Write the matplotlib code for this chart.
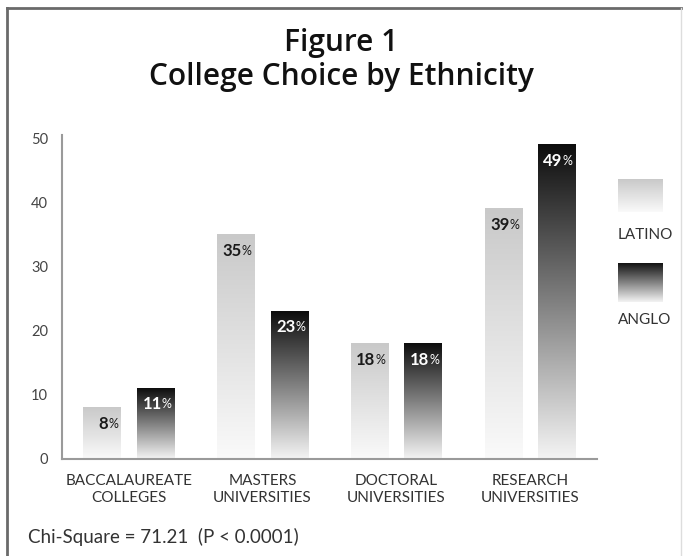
import numpy as np
import matplotlib
matplotlib.use("Agg")
import matplotlib.pyplot as plt
from matplotlib.colors import LinearSegmentedColormap
from matplotlib.lines import Line2D

plt.rcParams['font.family'] = ['Lato', 'DejaVu Sans']

# Data
categories = ["BACCALAUREATE\nCOLLEGES", "MASTERS\nUNIVERSITIES",
              "DOCTORAL\nUNIVERSITIES", "RESEARCH\nUNIVERSITIES"]
latino = [8, 35, 18, 39]
anglo = [11, 23, 18, 49]
series_names = ["LATINO", "ANGLO"]
y_ticks = [0, 10, 20, 30, 40, 50]
title_lines = ["Figure 1", "College Choice by Ethnicity"]
footnote = "Chi-Square = 71.21  (P < 0.0001)"

# Vertical gradients (bottom -> top)
latino_cmap = LinearSegmentedColormap.from_list("lat", ["#fafafa", "#c9c9c9"])
anglo_cmap = LinearSegmentedColormap.from_list("ang", ["#f4f4f4", "#808080", "#0d0d0d"])
grad = np.linspace(0, 1, 256).reshape(-1, 1)

fig = plt.figure(figsize=(6.83, 5.56), dpi=100)
fig.patch.set_facecolor("white")
ax = fig.add_axes([0.0908, 0.1745, 0.7832, 0.5825])

width = 0.28
offset = 0.2
x = np.arange(len(categories))


def gradient_bar(xc, h, cmap):
    ax.imshow(grad, extent=[xc - width / 2, xc + width / 2, 0, h], origin="lower",
              cmap=cmap, aspect="auto", interpolation="bicubic", zorder=2)


def bar_label(xc, h, color):
    ax.annotate(f"{h}", xy=(xc, h), xytext=(6, -16), textcoords="offset pixels",
                ha="right", va="center", fontsize=12, fontweight="bold",
                color=color, zorder=3)
    ax.annotate("%", xy=(xc, h), xytext=(6, -16), textcoords="offset pixels",
                ha="left", va="center", fontsize=9, color=color, zorder=3)


for i in range(len(categories)):
    gradient_bar(x[i] - offset, latino[i], latino_cmap)
    gradient_bar(x[i] + offset, anglo[i], anglo_cmap)
    bar_label(x[i] - offset, latino[i], "#1a1a1a")
    bar_label(x[i] + offset, anglo[i], "white")

ax.set_xlim(-0.5, 3.5)
ax.set_ylim(0, 50.5)
ax.set_xticks(x)
ax.set_xticklabels(categories, fontsize=11, color="#333333", linespacing=1.25)
ax.set_yticks(y_ticks)
ax.set_yticklabels([str(t) for t in y_ticks], fontsize=10.5, color="#444444")
ax.tick_params(axis="x", length=0, pad=11)
ax.tick_params(axis="y", length=0, pad=10)
for s in ["top", "right"]:
    ax.spines[s].set_visible(False)
for s in ["left", "bottom"]:
    ax.spines[s].set_color("#9a9a9a")
    ax.spines[s].set_linewidth(1.5)

# Title
title_font = dict(family=["Open Sans", "DejaVu Sans"], fontsize=21.5, fontweight="semibold",
                  color="#111111", ha="center", va="center")
fig.text(0.5, 1 - 43 / 556, title_lines[0], **title_font)
fig.text(0.5, 1 - 77 / 556, title_lines[1], **title_font)

# Legend swatches with gradients
for (y0, y1), cmap, name, ty in [((179, 212), latino_cmap, series_names[0], 235),
                                 ((263, 302), anglo_cmap, series_names[1], 320)]:
    lax = fig.add_axes([618 / 683, 1 - y1 / 556, 45 / 683, (y1 - y0) / 556])
    lax.imshow(grad, origin="lower", cmap=cmap, aspect="auto", interpolation="bicubic")
    lax.axis("off")
    fig.text(645 / 683, 1 - ty / 556, name, ha="center", va="center",
             fontsize=11, color="#333333")

# Footnote
fig.text(28 / 683, 1 - 537 / 556, footnote, ha="left", va="center",
         fontsize=13.5, color="#333333")

# Frame lines
fig.add_artist(Line2D([7 / 683, 7 / 683], [0, 1 - 8 / 556], color="#6a6a6a", lw=2,
                      transform=fig.transFigure))
fig.add_artist(Line2D([7 / 683, 681 / 683], [1 - 8 / 556, 1 - 8 / 556], color="#6a6a6a",
                      lw=2, transform=fig.transFigure))
fig.add_artist(Line2D([681 / 683, 681 / 683], [0, 1 - 8 / 556], color="#dddddd", lw=1,
                      transform=fig.transFigure))

fig.savefig("out.png", dpi=100, facecolor="white")
